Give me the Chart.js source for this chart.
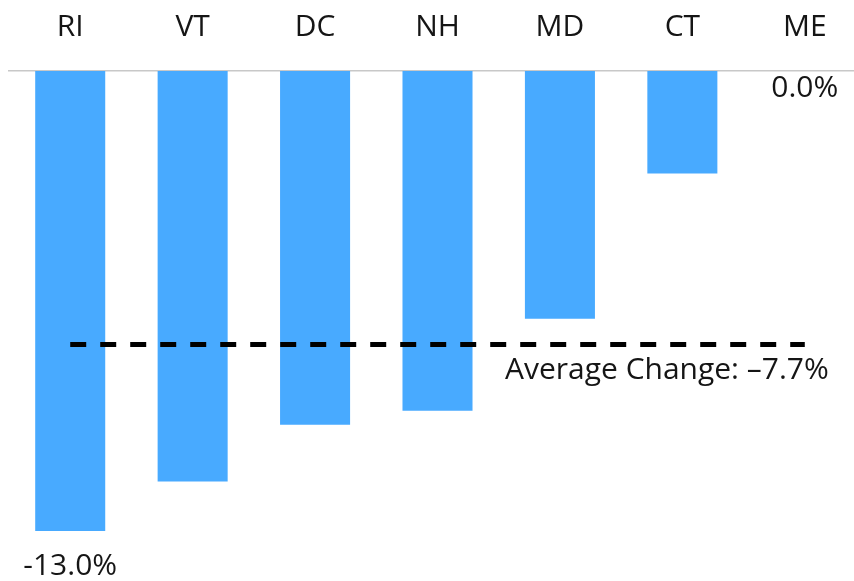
<!DOCTYPE html>
<html>
<head>
<meta charset="utf-8">
<script src="https://cdn.jsdelivr.net/npm/chart.js@4/dist/chart.umd.min.js"></script>
<style>
  html, body { margin: 0; padding: 0; background: #fff; overflow: hidden; }
  #wrap { width: 866px; height: 581px; }
</style>
</head>
<body>
<div id="wrap"><canvas id="changeChart" width="866" height="581"></canvas></div>
<script>
var states = ['RI', 'VT', 'DC', 'NH', 'MD', 'CT', 'ME'];
var changes = [-13.0, -11.6, -10.0, -9.6, -7.0, -2.9, 0.0];

var avg = changes.reduce(function (a, b) { return a + b; }, 0) / changes.length;
var avgLine = states.map(function () { return avg; });

var FONT = '"Open Sans", sans-serif';
var TEXT = '#151515';

function pct(v) { return v.toFixed(1) + '%'; }

// labels for the largest drop and the zero bar, plus the average caption
var labelPlugin = {
    id: 'labelPlugin',
    afterDatasetsDraw: function (chart) {
        var ctx = chart.ctx;
        var bars = chart.getDatasetMeta(0).data;
        var minV = Math.min.apply(null, changes);
        var maxV = Math.max.apply(null, changes);
        ctx.save();
        ctx.font = '30px ' + FONT;
        ctx.fillStyle = TEXT;
        ctx.textAlign = 'center';
        ctx.textBaseline = 'middle';
        bars.forEach(function (bar, i) {
            var v = changes[i];
            if (v === minV) ctx.fillText(pct(v), bar.x, bar.y + 35);
            if (v === maxV) ctx.fillText(pct(v), bar.x, bar.y + 17);
        });
        var pts = chart.getDatasetMeta(1).data;
        var last = pts[pts.length - 1];
        ctx.textAlign = 'right';
        ctx.fillText('Average Change: \u2013' + Math.abs(avg).toFixed(1) + '%', last.x + 24, last.y + 26);
        ctx.restore();
    }
};

new Chart(document.getElementById('changeChart'), {
    type: 'bar',
    data: {
        labels: states,
        datasets: [{
            data: changes,
            backgroundColor: '#48aaff',
            borderWidth: 0,
            categoryPercentage: 1,
            barPercentage: 0.572,
            order: 2
        }, {
            type: 'line',
            data: avgLine,
            borderColor: '#000',
            borderWidth: 5,
            borderDash: [16, 14],
            pointRadius: 0,
            fill: false,
            order: 1
        }]
    },
    options: {
        responsive: false,
        animation: false,
        layout: { padding: { left: 9, right: 0, top: 0, bottom: 50 } },
        plugins: { legend: { display: false }, tooltip: { enabled: false } },
        scales: {
            x: {
                position: 'top',
                grid: { display: false, drawTicks: false },
                border: { display: true, color: '#c8c8c8', width: 1.5 },
                ticks: { color: TEXT, font: { family: FONT, size: 30 }, padding: 26 },
                afterFit: function (scale) { scale.height = 71; }
            },
            y: {
                display: false,
                min: -13,
                max: 0
            }
        }
    },
    plugins: [labelPlugin]
});
</script>
</body>
</html>
